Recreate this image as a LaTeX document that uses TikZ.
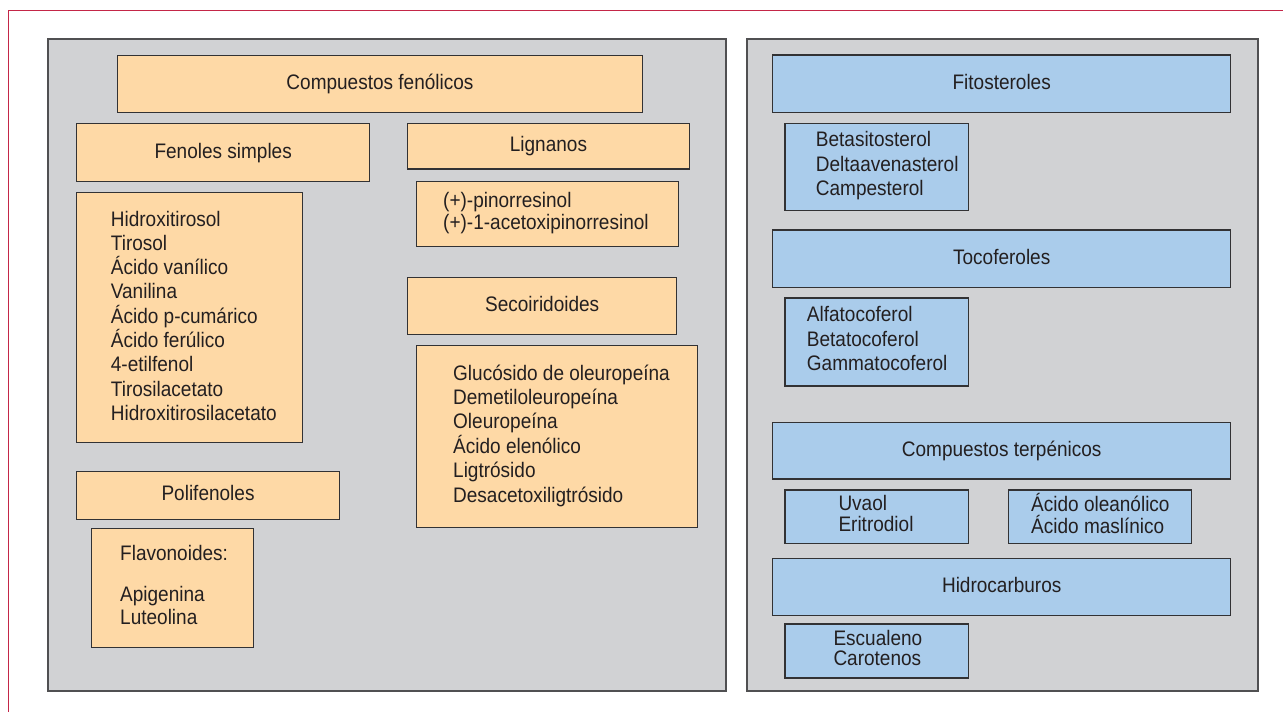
\documentclass[tikz,border=0pt]{standalone}
\usepackage{fontspec}
\setmainfont[FakeStretch=0.905]{Liberation Sans}
\definecolor{panelfill}{RGB}{209,210,212}
\definecolor{panelline}{RGB}{80,80,82}
\definecolor{boxline}{RGB}{50,50,52}
\definecolor{orangefill}{RGB}{254,217,166}
\definecolor{bluefill}{RGB}{170,204,235}
\definecolor{textcol}{RGB}{35,31,32}
\definecolor{framered}{RGB}{196,38,72}
\newcommand{\myln}[1]{\hbox{#1}}
\newcommand{\txtlines}[2]{\vtop{\baselineskip=#1pt\lineskiplimit=-1000pt\lineskip=0pt #2}}
\newcommand{\boxat}[7]{\node[#1, anchor=north west, minimum width={#5-#3}, minimum height={#6-#4}] (#2) at (#3,#4) {#7};}
\begin{document}
\begin{tikzpicture}[x=1pt,y=-1pt,
  panelbox/.style={draw=panelline, fill=panelfill, line width=2pt, inner sep=0pt},
  orangebox/.style={draw=boxline, fill=orangefill, line width=1.4pt, inner sep=0pt,
     font=\fontsize{21}{24.3}\selectfont, text=textcol, text height=12.5pt, text depth=1.5pt},
  bluebox/.style={draw=boxline, fill=bluefill, line width=1.4pt, inner sep=0pt,
     font=\fontsize{21}{24.3}\selectfont, text=textcol, text height=12.5pt, text depth=1.5pt},
  listtxt/.style={inner sep=0pt, anchor=base west, font=\fontsize{21}{24.3}\selectfont, text=textcol},
  redline/.style={draw=framered, line width=1.8pt}
]
\useasboundingbox (0,0) rectangle (1283,712);
\fill[white] (0,0) rectangle (1283,712);
% red frame
\coordinate (r1) at (8.5,712);
\coordinate (r2) at (8.5,10.5);
\coordinate (r3) at (1283,10.5);
\draw[redline] (r1) -- (r2) -- (r3);
% panels
\boxat{panelbox}{lpanel}{47}{38}{725}{690}{}
\boxat{panelbox}{rpanel}{746}{38}{1257}{690}{}
% ---------- left panel
\boxat{orangebox}{cf}{117}{54.5}{641.5}{111.5}{Compuestos fenólicos}
\boxat{orangebox}{fs}{76}{123}{369}{181}{Fenoles simples}
\boxat{orangebox}{lig}{407}{123}{688.5}{168.3}{Lignanos}
\boxat{orangebox}{fsl}{76}{192}{302}{442}{}
\node[listtxt] (fslt) at (110.7,226) {\txtlines{24.3}{\myln{Hidroxitirosol}\myln{Tirosol}\myln{Ácido vanílico}\myln{Vanilina}\myln{Ácido p-cumárico}\myln{Ácido ferúlico}\myln{4-etilfenol}\myln{Tirosilacetato}\myln{Hidroxitirosilacetato}}};
\boxat{orangebox}{ligl}{416}{181}{677.7}{246}{}
\node[listtxt] (liglt) at (443,207.7) {\txtlines{21.6}{\myln{(+)-pinorresinol}\myln{(+)-1-acetoxipinorresinol}}};
\boxat{orangebox}{sec}{407}{276.7}{676}{334}{Secoiridoides}
\boxat{orangebox}{secl}{415.7}{344.7}{697}{527}{}
\node[listtxt] (seclt) at (453,380) {\txtlines{24.4}{\myln{Glucósido de oleuropeína}\myln{Demetiloleuropeína}\myln{Oleuropeína}\myln{Ácido elenólico}\myln{Ligtrósido}\myln{Desacetoxiligtrósido}}};
\boxat{orangebox}{pol}{75.7}{470.7}{339}{518.7}{Polifenoles}
\boxat{orangebox}{fla}{90.7}{528}{253}{646.7}{}
\node[listtxt] (flat) at (120,560.7) {\txtlines{24.3}{\myln{Flavonoides:}\vskip16.7pt\myln{Apigenina}\vskip-2pt\myln{Luteolina}}};
% ---------- right panel
\boxat{bluebox}{fit}{772}{54.3}{1230}{111.7}{Fitosteroles}
\boxat{bluebox}{fitl}{784.3}{122.7}{967.7}{210}{}
\node[listtxt] (fitlt) at (815.7,146.7) {\txtlines{24.5}{\myln{Betasitosterol}\myln{Deltaavenasterol}\myln{Campesterol}}};
\boxat{bluebox}{toc}{772}{229.3}{1230}{286.7}{Tocoferoles}
\boxat{bluebox}{tocl}{784.3}{297.3}{967.7}{385.3}{}
\node[listtxt] (toclt) at (806.7,321.7) {\txtlines{24.5}{\myln{Alfatocoferol}\myln{Betatocoferol}\myln{Gammatocoferol}}};
\boxat{bluebox}{ter}{772}{421.7}{1230}{478.3}{Compuestos terpénicos}
\boxat{bluebox}{uva}{784.3}{489.3}{967.7}{542.7}{}
\node[listtxt] (uvat) at (838.3,510.7) {\txtlines{21}{\myln{Uvaol}\myln{Eritrodiol}}};
\boxat{bluebox}{aci}{1007.7}{489.3}{1191}{542.7}{}
\node[listtxt] (acit) at (1031,511.7) {\txtlines{21.6}{\myln{Ácido oleanólico}\myln{Ácido maslínico}}};
\boxat{bluebox}{hid}{772}{557.7}{1230}{615}{Hidrocarburos}
\boxat{bluebox}{esc}{784.3}{623.3}{967.7}{677.3}{}
\node[listtxt] (esct) at (833.3,645) {\txtlines{20}{\myln{Escualeno}\myln{Carotenos}}};
\end{tikzpicture}
\end{document}
